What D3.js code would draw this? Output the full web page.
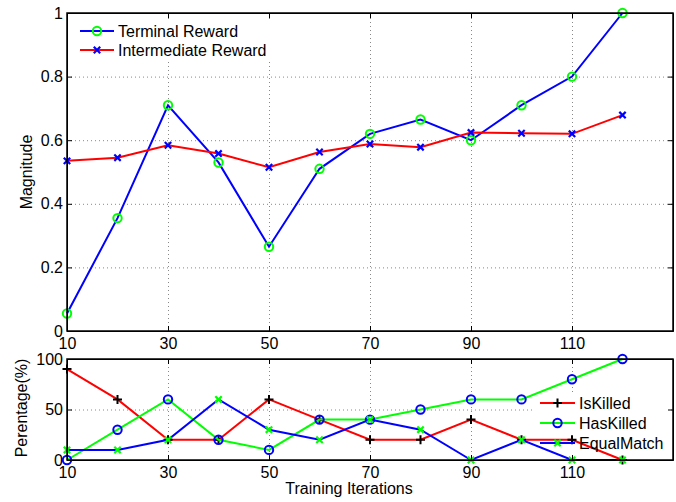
<!DOCTYPE html>
<meta charset="utf-8">
<style>
body { margin: 0; background: #fff; }
svg { font-family: "Liberation Sans", Arial, Helvetica, sans-serif; }
.grid line { stroke: #888; stroke-dasharray: 1,3; }
.grid path { display: none; }
.axis path, .axis line { stroke: #000; }
.axis text { font-size: 16px; fill: #000; }
</style>
<body>
<svg width="676" height="502"></svg>
</body>
<script src="https://d3js.org/d3.v7.min.js"></script>
<script>

var iterations = [10, 20, 30, 40, 50, 60, 70, 80, 90, 100, 110, 120];
var xTicks = [10, 30, 50, 70, 90, 110];

// top panel
var terminalReward = [0.055, 0.355, 0.71, 0.53, 0.265, 0.51, 0.62, 0.665, 0.60, 0.71, 0.80, 1.0];
var intermediateReward = [0.535, 0.545, 0.584, 0.558, 0.515, 0.563, 0.588, 0.578, 0.624, 0.622, 0.620, 0.679];
var magTicks = [0, 0.2, 0.4, 0.6, 0.8, 1];

// bottom panel
var isKilled = [90, 60, 20, 20, 60, 40, 20, 20, 40, 20, 20, 0];
var hasKilled = [0, 30, 60, 20, 10, 40, 40, 50, 60, 60, 80, 100];
var equalMatch = [10, 10, 20, 60, 30, 20, 40, 30, 0, 20, 0, 0];
var pctTicks = [0, 50, 100];

var svg = d3.select("svg");
var left = 67, right = 673;

var x = d3.scaleLinear().domain([10, 130]).range([left, right]);
var yTop = d3.scaleLinear().domain([0, 1]).range([331, 13]);
var yBot = d3.scaleLinear().domain([0, 100]).range([460, 359]);

function marker(sel, type, color) {
  if (type === "o") {
    sel.append("circle").attr("r", 4.2).attr("fill", "none")
      .attr("stroke", color).attr("stroke-width", 2);
  } else if (type === "x") {
    sel.append("path").attr("d", "M-3.2,-3.2L3.2,3.2M-3.2,3.2L3.2,-3.2")
      .attr("stroke", color).attr("stroke-width", 2.2);
  } else {
    sel.append("path").attr("d", "M-4.5,0L4.5,0M0,-4.5L0,4.5")
      .attr("stroke", color).attr("stroke-width", 2);
  }
}

function panel(y, yticks, fmt, series, legend) {
  var x0 = x.range()[0], x1 = x.range()[1];
  var y0 = y.range()[0], y1 = y.range()[1];

  // grid
  svg.append("g").attr("class", "grid")
    .attr("transform", "translate(0," + y0 + ")")
    .call(d3.axisBottom(x).tickValues(xTicks).tickSize(-(y0 - y1)).tickFormat(""));
  svg.append("g").attr("class", "grid")
    .attr("transform", "translate(" + x0 + ",0)")
    .call(d3.axisLeft(y).tickValues(yticks).tickSize(-(x1 - x0)).tickFormat(""));

  // legend background
  svg.append("rect").attr("x", legend.bx).attr("y", legend.by)
    .attr("width", legend.bw).attr("height", legend.bh).attr("fill", "#fff");

  // data
  series.forEach(function(s) {
    var line = d3.line().x(function(d, i) { return x(iterations[i]); })
      .y(function(d) { return y(d); });
    svg.append("path").datum(s.values).attr("d", line)
      .attr("fill", "none").attr("stroke", s.line).attr("stroke-width", 2);
    svg.append("g").selectAll("g").data(s.values).enter().append("g")
      .attr("transform", function(d, i) { return "translate(" + x(iterations[i]) + "," + y(d) + ")"; })
      .each(function() { marker(d3.select(this), s.marker, s.mcolor); });
  });

  // axes with inward ticks
  svg.append("g").attr("class", "axis")
    .attr("transform", "translate(0," + y0 + ")")
    .call(d3.axisBottom(x).tickValues(xTicks).tickSizeInner(-5).tickSizeOuter(0).tickPadding(7));
  svg.append("g").attr("class", "axis")
    .attr("transform", "translate(" + x0 + ",0)")
    .call(d3.axisLeft(y).tickValues(yticks).tickFormat(fmt).tickSizeInner(-5).tickSizeOuter(0).tickPadding(4));
  svg.append("g").attr("class", "axis")
    .attr("transform", "translate(0," + y1 + ")")
    .call(d3.axisTop(x).tickValues(xTicks).tickSizeInner(-5).tickSizeOuter(0).tickFormat(""));
  svg.append("g").attr("class", "axis")
    .attr("transform", "translate(" + x1 + ",0)")
    .call(d3.axisRight(y).tickValues(yticks).tickSizeInner(-5).tickSizeOuter(0).tickFormat(""));
  svg.append("rect").attr("x", x0).attr("y", y1).attr("width", x1 - x0).attr("height", y0 - y1)
    .attr("fill", "none").attr("stroke", "#000").attr("stroke-width", 1.5);

  // legend entries
  series.forEach(function(s, i) {
    var ly = legend.y + i * legend.dy;
    svg.append("line").attr("x1", legend.x).attr("x2", legend.x + legend.len)
      .attr("y1", ly).attr("y2", ly).attr("stroke", s.line).attr("stroke-width", 2);
    var m = svg.append("g").attr("transform", "translate(" + (legend.x + legend.len / 2) + "," + ly + ")");
    marker(m, s.marker, s.mcolor);
    svg.append("text").attr("x", legend.x + legend.len + 4).attr("y", ly)
      .attr("dy", "0.36em").attr("font-size", 16).text(s.name);
  });
}

panel(yTop, magTicks, function(d) { return d === 0 || d === 1 ? d : d.toFixed(1); }, [
  {name: "Terminal Reward", values: terminalReward, line: "#0000ff", marker: "o", mcolor: "#00ff00"},
  {name: "Intermediate Reward", values: intermediateReward, line: "#ff0000", marker: "x", mcolor: "#0000ff"}
], {x: 80, len: 34, y: 31, dy: 19, bx: 74, by: 19, bw: 198, bh: 41});

panel(yBot, pctTicks, d3.format("d"), [
  {name: "IsKilled", values: isKilled, line: "#ff0000", marker: "+", mcolor: "#000"},
  {name: "HasKilled", values: hasKilled, line: "#00ff00", marker: "o", mcolor: "#0000ff"},
  {name: "EqualMatch", values: equalMatch, line: "#0000ff", marker: "x", mcolor: "#00ff00"}
], {x: 540, len: 35, y: 403, dy: 20, bx: 533, by: 392, bw: 136, bh: 61});

// axis titles
svg.append("text").attr("transform", "translate(32,172) rotate(-90)")
  .attr("text-anchor", "middle").attr("font-size", 16).text("Magnitude");
svg.append("text").attr("transform", "translate(27,408) rotate(-90)")
  .attr("text-anchor", "middle").attr("font-size", 16).text("Perentage(%)");
svg.append("text").attr("x", 349).attr("y", 494)
  .attr("text-anchor", "middle").attr("font-size", 16).text("Training Iterations");

</script>
